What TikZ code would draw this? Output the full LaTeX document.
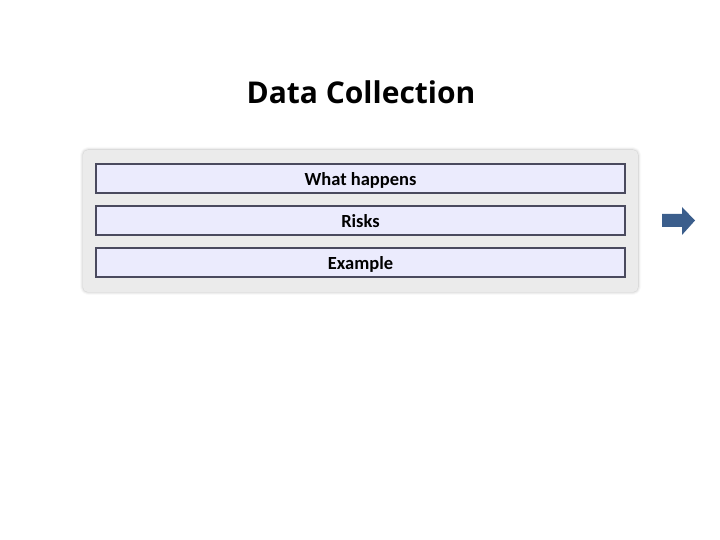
\documentclass[tikz,border=0pt]{standalone}
\usepackage{fontspec}
\setmainfont{Carlito}
\newfontfamily\titlefont{Open Sans}
\usetikzlibrary{shadows.blur}
\definecolor{panelfill}{HTML}{EBEBEB}
\definecolor{itemfill}{HTML}{EBEBFD}
\definecolor{itemdraw}{HTML}{4A4A5E}
\definecolor{arrowblue}{HTML}{3B5E8C}
\tikzset{
  panel/.style={fill=panelfill, draw=none, rounded corners=5pt, blur shadow={shadow xshift=0pt, shadow yshift=0pt, shadow blur radius=3pt, shadow opacity=30}},
  itembox/.style={fill=itemfill, draw=itemdraw, line width=1.8pt, minimum width=529pt, minimum height=29pt, inner sep=0pt, text height=14pt, text depth=0pt, font=\fontsize{18.5}{20}\selectfont\bfseries},
  titletext/.style={font=\titlefont\fontsize{30}{34}\selectfont\bfseries},
}
\begin{document}
\begin{tikzpicture}[x=1pt,y=1pt]
\useasboundingbox (0,0) rectangle (720,540);
\node[titletext] (title) at (361,448) {Data Collection};
\path[panel] (83,248) rectangle (638,390);
\node[itembox] (what) at (360.5,361.5) {What happens};
\node[itembox] (risks) at (360.5,319.5) {Risks};
\node[itembox] (ex) at (360.5,277.5) {Example};
\fill[arrowblue] (662,326) -- (682,326) -- (682,333) -- (695,319.5) -- (682,305) -- (682,313) -- (662,313) -- cycle;
\end{tikzpicture}
\end{document}
